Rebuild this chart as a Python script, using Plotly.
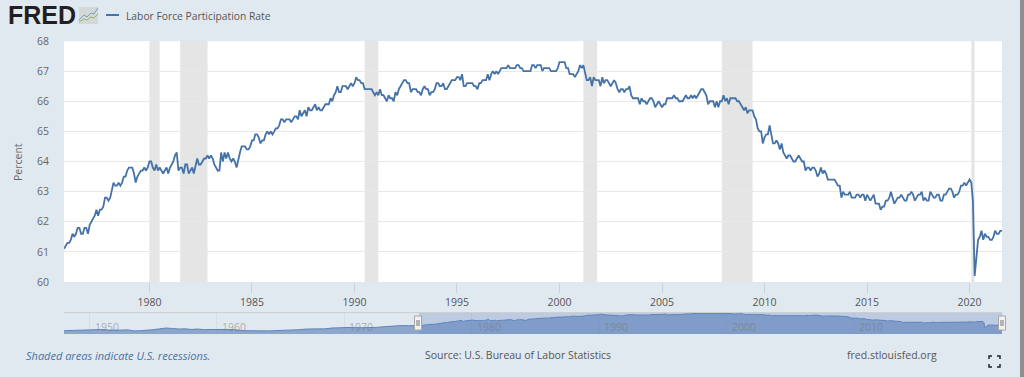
import pandas as pd
import plotly.graph_objects as go

W, H = 1024, 377
TITLE = "Labor Force Participation Rate"
Y_TICKS = [60, 61, 62, 63, 64, 65, 66, 67, 68]
X_TICK_YEARS = [1980, 1985, 1990, 1995, 2000, 2005, 2010, 2015, 2020]
NAV_TICK_YEARS = [1950, 1960, 1970, 1980, 1990, 2000, 2010]

rate_1975_1979 = [61.1, 61.2,
    61.3, 61.3, 61.4, 61.6, 61.5, 61.6, 61.8, 61.8, 61.6, 61.6, 61.8, 61.8,
    61.6, 61.9, 62.0, 62.1, 62.2, 62.4, 62.2, 62.4, 62.4, 62.5, 62.8, 62.8,
    62.7, 62.8, 63.0, 63.3, 63.2, 63.2, 63.3, 63.2, 63.3, 63.5, 63.5, 63.7,
    63.8, 63.8, 63.8, 63.6, 63.3, 63.5, 63.6, 63.7, 63.7, 63.8, 63.7, 63.8]
rate_1980_1984 = [
    64.0, 64.0, 63.8, 63.7, 63.9, 63.7, 63.8, 63.7, 63.6, 63.7, 63.8, 63.6,
    63.8, 63.9, 64.0, 64.2, 64.3, 63.7, 63.8, 63.8, 63.6, 63.9, 63.9, 63.6,
    63.7, 63.8, 63.6, 63.9, 64.1, 63.9, 63.9, 64.0, 64.1, 64.1, 64.2, 64.1,
    64.2, 64.1, 63.9, 63.8, 63.7, 63.7, 64.3, 64.0, 64.3, 64.1, 64.3, 64.1,
    64.0, 64.1, 64.0, 63.8, 64.1, 64.3, 64.5, 64.5, 64.5, 64.4, 64.4, 64.5]
rate_1985_1989 = [
    64.7, 64.7, 64.9, 64.9, 64.8, 64.6, 64.7, 64.7, 64.9, 65.0, 64.9, 65.0,
    64.9, 65.0, 65.1, 65.1, 65.2, 65.4, 65.4, 65.3, 65.4, 65.4, 65.4, 65.3,
    65.4, 65.5, 65.5, 65.4, 65.7, 65.5, 65.6, 65.7, 65.5, 65.8, 65.7, 65.7,
    65.8, 65.9, 65.7, 65.8, 65.7, 65.7, 65.8, 65.9, 65.9, 65.9, 66.1, 66.0,
    66.2, 66.3, 66.5, 66.3, 66.3, 66.5, 66.5, 66.5, 66.4, 66.5, 66.6, 66.5]
rate_1990_1994 = [
    66.6, 66.8, 66.7, 66.7, 66.6, 66.6, 66.4, 66.4, 66.4, 66.4, 66.4, 66.3,
    66.2, 66.3, 66.2, 66.4, 66.2, 66.2, 66.1, 66.0, 66.2, 66.1, 66.1, 66.0,
    66.3, 66.2, 66.4, 66.5, 66.6, 66.7, 66.7, 66.6, 66.6, 66.3, 66.4, 66.4,
    66.4, 66.3, 66.3, 66.2, 66.4, 66.5, 66.4, 66.4, 66.2, 66.3, 66.3, 66.4,
    66.6, 66.6, 66.5, 66.5, 66.6, 66.4, 66.4, 66.5, 66.6, 66.7, 66.7, 66.7]
rate_1995_1999 = [
    66.8, 66.8, 66.7, 66.9, 66.5, 66.5, 66.6, 66.6, 66.6, 66.6, 66.5, 66.5,
    66.4, 66.6, 66.6, 66.7, 66.7, 66.7, 66.9, 66.7, 66.9, 67.0, 66.9, 67.0,
    66.9, 67.0, 67.1, 67.1, 67.1, 67.1, 67.2, 67.1, 67.1, 67.1, 67.1, 67.2,
    67.2, 67.1, 67.1, 67.0, 67.0, 67.0, 67.0, 67.0, 67.2, 67.2, 67.1, 67.2,
    67.2, 67.2, 67.0, 67.1, 67.1, 67.1, 67.1, 67.0, 67.0, 67.0, 67.0, 67.1]
rate_2000_2004 = [
    67.3, 67.3, 67.3, 67.3, 67.1, 67.1, 66.9, 66.9, 66.9, 66.8, 66.9, 67.0,
    67.2, 67.1, 67.2, 66.9, 66.7, 66.7, 66.8, 66.5, 66.8, 66.7, 66.7, 66.7,
    66.5, 66.8, 66.6, 66.7, 66.7, 66.6, 66.5, 66.6, 66.7, 66.6, 66.4, 66.3,
    66.4, 66.4, 66.3, 66.4, 66.4, 66.5, 66.2, 66.1, 66.1, 66.1, 66.1, 65.9,
    66.1, 66.0, 66.0, 65.9, 66.0, 66.1, 66.1, 66.0, 65.8, 65.9, 66.0, 65.9]
rate_2005_2009 = [
    65.8, 65.9, 65.9, 66.1, 66.1, 66.1, 66.1, 66.2, 66.1, 66.1, 66.0, 66.0,
    66.0, 66.1, 66.2, 66.1, 66.1, 66.2, 66.1, 66.2, 66.1, 66.2, 66.3, 66.4,
    66.4, 66.3, 66.2, 65.9, 66.0, 66.0, 66.0, 65.8, 66.0, 65.8, 66.0, 66.0,
    66.2, 66.0, 66.1, 65.9, 66.1, 66.1, 66.1, 66.1, 66.0, 66.0, 65.9, 65.8,
    65.7, 65.8, 65.6, 65.7, 65.7, 65.7, 65.5, 65.4, 65.1, 65.0, 65.0, 64.6]
rate_2010_2014 = [
    64.8, 64.9, 64.9, 65.2, 64.9, 64.6, 64.6, 64.7, 64.6, 64.4, 64.6, 64.3,
    64.2, 64.1, 64.2, 64.2, 64.1, 64.0, 64.0, 64.1, 64.2, 64.1, 64.0, 64.0,
    63.7, 63.8, 63.8, 63.7, 63.8, 63.8, 63.7, 63.5, 63.6, 63.8, 63.6, 63.7,
    63.6, 63.4, 63.4, 63.4, 63.4, 63.4, 63.3, 63.2, 63.2, 62.8, 63.0, 62.9,
    62.9, 62.9, 63.0, 62.8, 62.8, 62.8, 62.9, 62.9, 62.8, 62.9, 62.9, 62.7]
rate_2015_2019 = [
    62.9, 62.8, 62.7, 62.8, 62.9, 62.6, 62.6, 62.6, 62.4, 62.5, 62.5, 62.7,
    62.7, 62.8, 63.0, 62.8, 62.6, 62.7, 62.8, 62.8, 62.9, 62.8, 62.7, 62.7,
    62.9, 62.9, 63.0, 62.9, 62.7, 62.8, 62.9, 62.9, 63.0, 62.7, 62.8, 62.7,
    62.7, 63.0, 62.9, 62.8, 62.8, 62.9, 62.9, 62.7, 62.7, 62.9, 62.9, 63.0,
    63.1, 63.1, 63.0, 62.8, 62.9, 62.9, 63.0, 63.2, 63.2, 63.3, 63.2, 63.3]
rate_2020_2021 = [
    63.4, 63.3, 62.7, 60.2, 60.8, 61.4, 61.5, 61.7, 61.4, 61.6, 61.5, 61.5,
    61.4, 61.4, 61.5, 61.7, 61.6, 61.6, 61.7, 61.7]

# half-yearly reading of the navigator's long history, 1948 to mid 1975
nav_history = [58.8, 58.9, 58.8, 59.0, 59.2, 59.0, 59.4, 59.1, 59.0, 59.1, 59.2, 58.7, 58.8, 58.9,
    59.3, 59.7, 60.1, 59.9, 59.6, 59.7, 59.4, 59.6, 59.3, 59.4, 59.4, 59.7, 59.4, 59.2,
    58.8, 58.8, 58.7, 58.7, 58.7, 58.8, 58.9, 58.9, 59.2, 59.3, 59.6, 59.6, 59.6, 59.7,
    60.1, 60.2, 60.4, 60.4, 60.2, 60.2, 60.4, 60.4, 60.7, 60.9, 61.2, 61.3, 61.2, 61.2]

recession_starts = ["1980-01-01", "1981-07-01", "1990-07-01", "2001-03-01", "2007-12-01", "2020-02-01"]
recession_ends = ["1980-07-01", "1982-11-01", "1991-03-01", "2001-11-01", "2009-06-01", "2020-04-01"]

rate = (rate_1975_1979 + rate_1980_1984 + rate_1985_1989 + rate_1990_1994 + rate_1995_1999
        + rate_2000_2004 + rate_2005_2009 + rate_2010_2014 + rate_2015_2019 + rate_2020_2021)
dates = pd.date_range("1975-11-01", periods=len(rate), freq="MS")
nav_dates = pd.date_range("1948-01-01", periods=len(nav_history), freq="6MS")

BG = "#e1e9f0"
LINE = "#4572a7"
TXT = "#555555"
FONT = "Open Sans, sans-serif"

def px(x):
    return x / W

def py(y):
    return 1 - y / H

fig = go.Figure()
fig.add_trace(go.Scatter(
    x=list(nav_dates) + list(dates), y=nav_history + rate, xaxis="x2", yaxis="y2", mode="lines",
    line=dict(color="#5f84b8", width=1), fill="tozeroy", fillcolor="rgba(100,135,185,0.68)",
    hoverinfo="skip", showlegend=False))
fig.add_trace(go.Scatter(
    x=dates, y=rate, mode="lines", line=dict(color=LINE, width=1.8, shape="linear"),
    name=TITLE, showlegend=False))

# white plot panel (the navigator sits directly on the page colour)
shapes = [dict(type="rect", xref="paper", yref="paper", x0=px(64), x1=px(1002), y0=py(282), y1=py(41),
               line_width=0, fillcolor="white", layer="below")]
for s, e in zip(recession_starts, recession_ends):
    shapes.append(dict(type="rect", xref="x", yref="y", x0=s, x1=e, y0=60, y1=68, layer="below",
                       line_width=0, fillcolor="#e5e5e5"))

# navigator: selected window and its two handles
win0, win1 = str(dates[0].date()), str(dates[-1].date())
shapes.append(dict(type="rect", xref="x2", yref="y2 domain", x0=win0, x1=win1, y0=0, y1=1,
                   line_width=0, fillcolor="rgba(102,133,194,0.3)", layer="above"))
shapes.append(dict(type="line", xref="paper", yref="paper", x0=px(64), x1=px(1002), y0=py(312.5), y1=py(312.5),
                   line=dict(color="#cfcfcf", width=1)))
for cx in (418, 1002):
    shapes.append(dict(type="rect", xref="paper", yref="paper", x0=px(cx - 3.5), x1=px(cx + 3.5),
                       y0=py(316), y1=py(330), fillcolor="#f2f2f2", line=dict(color="#a8a8a8", width=1), layer="above"))
    for d in (-1, 1):
        shapes.append(dict(type="line", xref="paper", yref="paper", x0=px(cx + d), x1=px(cx + d),
                           y0=py(320), y1=py(326), line=dict(color="#777777", width=1), layer="above"))

# right window edge
shapes.append(dict(type="rect", xref="paper", yref="paper", x0=px(1020), x1=1, y0=0, y1=1,
                   line_width=0, fillcolor="#8f8f8f", layer="above"))

# logo icon
shapes.append(dict(type="rect", xref="paper", yref="paper", x0=px(79), x1=px(98), y0=py(24), y1=py(7),
                   line_width=0, fillcolor="#d5d8d8"))
def poly(pts, color, width):
    d = "M" + " L".join(f"{px(a):.5f},{py(b):.5f}" for a, b in pts)
    return dict(type="path", xref="paper", yref="paper", path=d, line=dict(color=color, width=width))
shapes.append(poly([(79, 20), (84, 15), (87, 17), (91, 13), (94, 14), (98, 8)], "#7d9cc0", 1))
shapes.append(poly([(79, 22), (84, 19), (87, 20), (91, 17), (94, 18), (98, 14)], "#9bb26b", 1))
# legend key
shapes.append(dict(type="line", xref="paper", yref="paper", x0=px(106), x1=px(119), y0=py(15), y1=py(15),
                   line=dict(color=LINE, width=2)))
# fullscreen icon
for cx, cy, sx, sy in [(989, 356, 1, 1), (1000, 356, -1, 1), (989, 367, 1, -1), (1000, 367, -1, -1)]:
    shapes.append(poly([(cx + 3 * sx, cy), (cx, cy), (cx, cy + 3 * sy)], "#222222", 1.5))

annotations = [
    dict(text="<b>FRED</b>", x=px(6), y=py(15), xanchor="left", yanchor="middle",
         font=dict(family="Liberation Sans", size=25, color="#231f20")),
    dict(text=TITLE, x=px(124), y=py(16), xanchor="left", yanchor="middle",
         font=dict(family=FONT, size=10.3, color=TXT)),
    dict(text="Percent", x=px(18), y=py(162), textangle=-90, xanchor="center", yanchor="middle",
         font=dict(family=FONT, size=10.5, color="#666666")),
    dict(text="<i>Shaded areas indicate U.S. recessions.</i>", x=px(24), y=py(355), xanchor="left", yanchor="middle",
         font=dict(family=FONT, size=11, color=LINE)),
    dict(text="Source: U.S. Bureau of Labor Statistics", x=px(518), y=py(355), xanchor="center", yanchor="middle",
         font=dict(family=FONT, size=10.5, color=TXT)),
    dict(text="fred.stlouisfed.org", x=px(892), y=py(355), xanchor="center", yanchor="middle",
         font=dict(family=FONT, size=10.5, color=TXT)),
]
for a in annotations:
    a.update(xref="paper", yref="paper", showarrow=False, xshift=0)
for yr in NAV_TICK_YEARS:
    annotations.append(dict(text=str(yr), xref="x2", yref="paper", x=f"{yr}-01-01", y=py(327), xshift=3,
                            xanchor="left", yanchor="middle", showarrow=False,
                            font=dict(family=FONT, size=10.5, color="rgba(120,120,120,0.55)")))

fig.update_layout(
    width=W, height=H, autosize=False, margin=dict(l=0, r=0, t=0, b=0, autoexpand=False),
    paper_bgcolor=BG, plot_bgcolor="rgba(0,0,0,0)", showlegend=False, hovermode="x",
    font=dict(family=FONT, size=10.5, color="#666666"),
    shapes=shapes, annotations=annotations,
    xaxis=dict(domain=[px(64), px(1002)], range=[win0, win1], type="date",
               tickvals=[f"{y}-01-01" for y in X_TICK_YEARS], ticktext=[str(y) for y in X_TICK_YEARS],
               ticks="outside", ticklen=10, tickcolor="#c6d3e3", tickwidth=1, showgrid=False, zeroline=False,
               showline=False, tickfont=dict(color="#555555", size=10.5)),
    yaxis=dict(domain=[py(282), py(41)], range=[60, 68], tickvals=Y_TICKS, ticks="outside", ticklen=12,
               tickcolor="rgba(0,0,0,0)", gridcolor="#e8e8e8", gridwidth=1, zeroline=False, showline=False,
               tickfont=dict(color="#666666", size=10.5)),
    xaxis2=dict(domain=[px(64), px(1002)], range=["1948-01-01", win1], type="date", anchor="y2",
                tickvals=[f"{y}-01-01" for y in NAV_TICK_YEARS], showticklabels=False, ticks="",
                showgrid=True, gridcolor="#d5dde6", zeroline=False, showline=False),
    yaxis2=dict(domain=[py(334), py(313)], range=[57.2, 67.4], anchor="x2", showticklabels=False, ticks="",
                showgrid=False, zeroline=False, showline=False),
)

fig.write_html("out.html", config=dict(displayModeBar=False),
               post_script="document.body.style.margin='0';document.documentElement.style.overflow='hidden';")
